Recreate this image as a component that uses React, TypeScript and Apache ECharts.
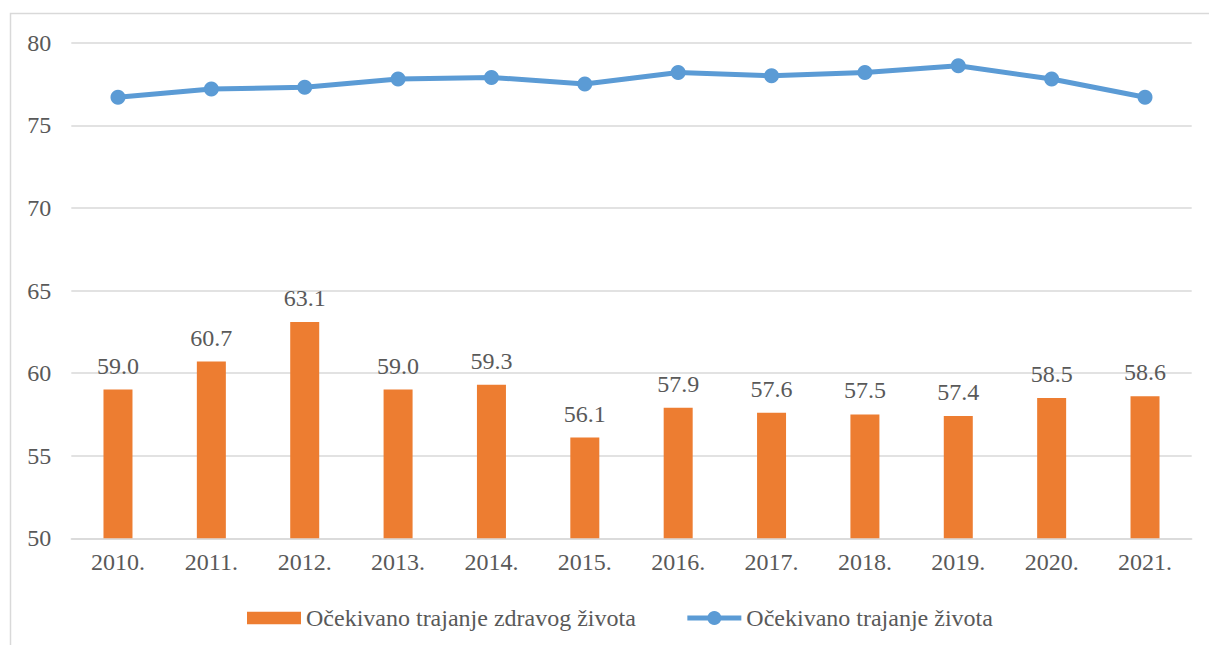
import React, { useEffect, useRef } from "react";
import * as echarts from "echarts";

const categories = ["2010.", "2011.", "2012.", "2013.", "2014.", "2015.", "2016.", "2017.", "2018.", "2019.", "2020.", "2021."];
const healthyLife = [59.0, 60.7, 63.1, 59.0, 59.3, 56.1, 57.9, 57.6, 57.5, 57.4, 58.5, 58.6];
const lifeExpectancy = [76.7, 77.2, 77.3, 77.8, 77.9, 77.5, 78.2, 78.0, 78.2, 78.6, 77.8, 76.7];
const barName = "Očekivano trajanje zdravog života";
const lineName = "Očekivano trajanje života";

const FONT = "Times New Roman, Liberation Serif, serif";
const TEXT = "#595959";

export default function App() {
  const ref = useRef<HTMLDivElement>(null);
  useEffect(() => {
    document.body.style.margin = "0";
    const chart = echarts.init(ref.current!, null, { renderer: "svg" });
    chart.setOption({
      animation: false,
      textStyle: { fontFamily: FONT },
      graphic: [
        {
          type: "rect",
          shape: { x: 10.5, y: 13.5, width: 1300, height: 700 },
          style: { fill: "none", stroke: "#d9d9d9", lineWidth: 1.5 },
          silent: true,
          z: -10,
        },
      ],
      grid: { left: 71.3, right: 17.3, top: 42.7, bottom: 106.7 },
      xAxis: {
        type: "category",
        data: categories,
        axisLine: { lineStyle: { color: "#d9d9d9", width: 1.5 } },
        axisTick: { show: false },
        axisLabel: { color: TEXT, fontSize: 24, fontFamily: FONT, margin: 12 },
      },
      yAxis: {
        type: "value",
        min: 50,
        max: 80,
        interval: 5,
        axisLine: { show: false },
        axisTick: { show: false },
        splitLine: { lineStyle: { color: "#d9d9d9", width: 1.5 } },
        axisLabel: { color: TEXT, fontSize: 24, fontFamily: FONT, margin: 20 },
      },
      legend: {
        left: 247,
        top: 606,
        padding: 0,
        itemGap: 49,
        itemWidth: 54,
        itemHeight: 17.5,
        lineStyle: { width: 5 },
        textStyle: { color: TEXT, fontSize: 24, fontFamily: FONT },
        data: [
          { name: barName, icon: "path://M0,0L52,0L52,12L0,12Z", itemStyle: { color: "#ED7D31" } },
          { name: lineName },
        ],
      },
      series: [
        {
          name: barName,
          type: "bar",
          data: healthyLife,
          barWidth: 29,
          itemStyle: { color: "#ED7D31" },
          label: {
            show: true,
            position: "top",
            distance: 12,
            color: TEXT,
            fontSize: 24,
            fontFamily: FONT,
            formatter: (p: any) => Number(p.value).toFixed(1),
          },
        },
        {
          name: lineName,
          type: "line",
          data: lifeExpectancy,
          symbol: "circle",
          symbolSize: 15,
          lineStyle: { color: "#5B9BD5", width: 5 },
          itemStyle: { color: "#5B9BD5" },
        },
      ],
    });
    return () => chart.dispose();
  }, []);
  return <div ref={ref} style={{ width: 1209, height: 645 }} />;
}
